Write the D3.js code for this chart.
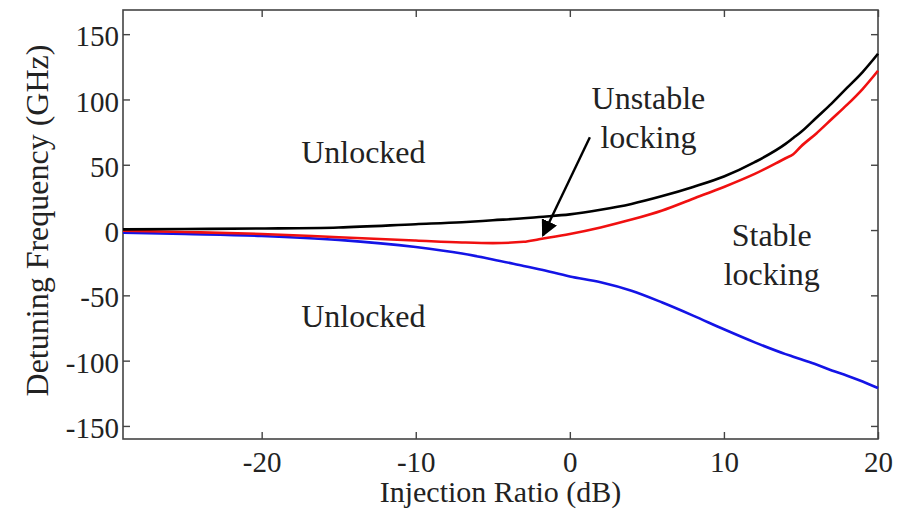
<!DOCTYPE html>
<html>
<head>
<meta charset="utf-8">
<script src="https://cdn.jsdelivr.net/npm/d3@7"></script>
<style>
  body { margin: 0; background: #fff; }
  svg { display: block; }
  text { font-family: "Liberation Serif", "DejaVu Serif", serif; fill: #222; }
</style>
</head>
<body>
<div id="chart"></div>
<script>
// injection ratio (dB) sample points
const injection = [-29, -25, -20, -15, -10, -7, -5, -3, -2, 0, 2, 4, 6, 8, 10, 12, 14, 14.5, 15, 16, 17, 18, 19, 20]

// upper locking boundary (black)
const upperEdge = [0.5, 0.8, 1.2, 2, 4.5, 6, 7.5, 9, 10, 12, 15.5, 20, 26, 33, 41, 52, 66, 70.5, 75, 86, 97, 109, 121, 135]
// stable / unstable boundary (red)
const stableEdge = [-0.5, -1.5, -3, -5.5, -8, -9.5, -10, -9, -7, -3, 2, 8, 15, 24, 33, 43, 55, 58, 64, 74, 85, 96, 108, 122]
// lower locking boundary (blue)
const lowerEdge = [-2, -3, -4.5, -7.5, -13, -18, -22.5, -27.5, -30, -35.5, -40, -46.5, -55.5, -65.5, -76, -86, -95, -97, -99, -103, -107.5, -111.5, -116, -121]

const xTicks = [-20, -10, 0, 10, 20]
const yTicks = [-150, -100, -50, 0, 50, 100, 150]

const regionLabels = [
  { lines: ["Unlocked"], x: -13.4, y: 51 },
  { lines: ["Unlocked"], x: -13.4, y: -74.5 },
  { lines: ["Unstable", "locking"], x: 5.1, y: 93 },
  { lines: ["Stable", "locking"], x: 13.1, y: -12 },
]
const arrow = { from: [1.3, 71], to: [-1.75, -4.2] }

const width = 902
const height = 513
const margin = { top: 10, right: 24, bottom: 74, left: 123 }

const svg = d3.select("#chart")
  .append("svg")
  .attr("width", width)
  .attr("height", height)

const x = d3.scaleLinear().domain([-29, 20]).range([margin.left, width - margin.right])
const y = d3.scaleLinear().domain([-160, 168.5]).range([height - margin.bottom, margin.top])

const axisColor = "#444"

// frame
svg.append("rect")
  .attr("x", x(-29))
  .attr("y", y(168.5))
  .attr("width", x(20) - x(-29))
  .attr("height", y(-160) - y(168.5))
  .attr("fill", "none")
  .attr("stroke", axisColor)
  .attr("stroke-width", 1.6)

function styleAxis(g) {
  g.select(".domain").remove()
  g.selectAll(".tick line").attr("stroke", axisColor).attr("stroke-width", 1.4)
  g.selectAll(".tick text").attr("font-size", 29).attr("fill", "#222")
    .attr("font-family", '"Liberation Serif", serif')
}

const plain = d => String(d)

svg.append("g")
  .attr("transform", `translate(0,${y(-160)})`)
  .call(d3.axisBottom(x).tickValues(xTicks).tickSizeInner(-7).tickSizeOuter(0).tickPadding(11).tickFormat(plain))
  .call(styleAxis)
  .selectAll(".tick text").attr("dy", "0.76em")

svg.append("g")
  .attr("transform", `translate(0,${y(168.5)})`)
  .call(d3.axisTop(x).tickValues(xTicks).tickSizeInner(-7).tickSizeOuter(0).tickFormat(""))
  .call(styleAxis)

svg.append("g")
  .attr("transform", `translate(${x(-29)},0)`)
  .call(d3.axisLeft(y).tickValues(yTicks).tickSizeInner(-7).tickSizeOuter(0).tickPadding(4).tickFormat(plain))
  .call(styleAxis)
  .selectAll(".tick text").attr("dy", "0.4em")

svg.append("g")
  .attr("transform", `translate(${x(20)},0)`)
  .call(d3.axisRight(y).tickValues(yTicks).tickSizeInner(-7).tickSizeOuter(0).tickFormat(""))
  .call(styleAxis)

// axis titles
svg.append("text")
  .attr("x", (x(-29) + x(20)) / 2)
  .attr("y", 502)
  .attr("text-anchor", "middle")
  .attr("font-size", 30)
  .text("Injection Ratio (dB)")

svg.append("text")
  .attr("transform", `translate(48,${(y(-160) + y(168.5)) / 2 - 4}) rotate(-90)`)
  .attr("text-anchor", "middle")
  .attr("font-size", 32)
  .text("Detuning Frequency (GHz)")

// curves
const line = d3.line()
  .x((d, i) => x(injection[i]))
  .y(d => y(d))
  .curve(d3.curveMonotoneX)

const series = [
  { values: lowerEdge, color: "#1414e6" },
  { values: stableEdge, color: "#f01010" },
  { values: upperEdge, color: "#000" },
]

svg.append("g")
  .selectAll("path")
  .data(series)
  .join("path")
  .attr("d", d => line(d.values))
  .attr("fill", "none")
  .attr("stroke", d => d.color)
  .attr("stroke-width", 2.6)
  .attr("stroke-linejoin", "round")

// region labels
regionLabels.forEach(lbl => {
  const t = svg.append("text")
    .attr("x", x(lbl.x))
    .attr("y", y(lbl.y))
    .attr("text-anchor", "middle")
    .attr("font-size", 32)
  lbl.lines.forEach((s, i) => {
    t.append("tspan").attr("x", x(lbl.x)).attr("dy", i === 0 ? 0 : 39).text(s)
  })
})

// arrow annotation
svg.append("defs").append("marker")
  .attr("id", "head")
  .attr("viewBox", "0 0 10 10")
  .attr("refX", 9)
  .attr("refY", 5)
  .attr("markerWidth", 7)
  .attr("markerHeight", 7)
  .attr("orient", "auto")
  .append("path")
  .attr("d", "M0,0 L10,5 L0,10 z")
  .attr("fill", "#000")

svg.append("line")
  .attr("x1", x(arrow.from[0]))
  .attr("y1", y(arrow.from[1]))
  .attr("x2", x(arrow.to[0]))
  .attr("y2", y(arrow.to[1]))
  .attr("stroke", "#000")
  .attr("stroke-width", 2.4)
  .attr("marker-end", "url(#head)")
</script>
</body>
</html>
